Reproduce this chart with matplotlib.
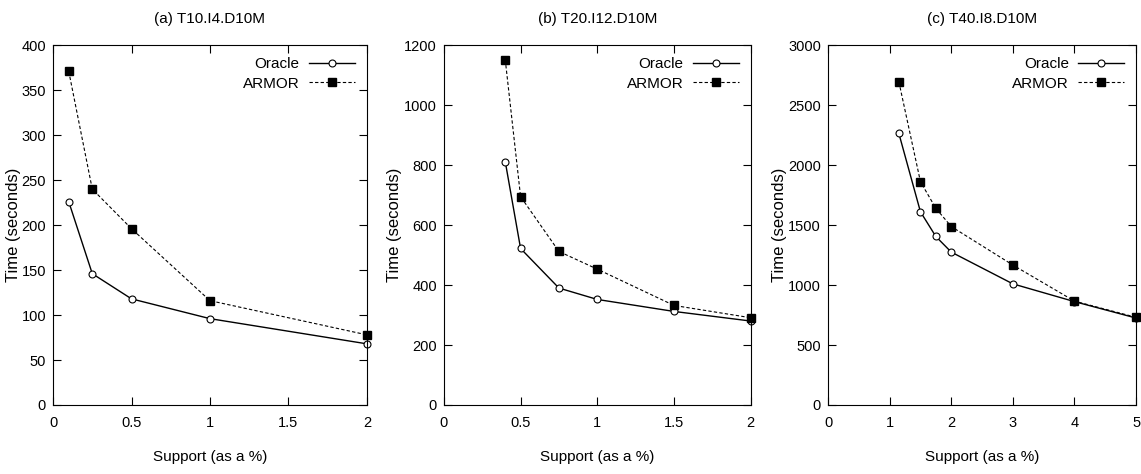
import matplotlib
matplotlib.use("Agg")
import matplotlib.pyplot as plt

# gnuplot-like narrow font if one is around, else plain sans
narrow = ['Liberation Sans Narrow', 'Liberation Sans', 'DejaVu Sans']
plt.rcParams['font.family'] = narrow

# panel (a) T10.I4.D10M
sup_a = [0.1, 0.25, 0.5, 1, 2]
oracle_a = [226, 146, 118, 96, 68]
armor_a = [371, 240, 196, 116, 78]

# panel (b) T20.I12.D10M
sup_b = [0.4, 0.5, 0.75, 1, 1.5, 2]
oracle_b = [812, 522, 390, 352, 312, 280]
armor_b = [1152, 695, 512, 453, 332, 291]

# panel (c) T40.I8.D10M
sup_c = [1.15, 1.5, 1.75, 2, 3, 4, 5]
oracle_c = [2264, 1611, 1405, 1275, 1010, 862, 725]
armor_c = [2695, 1862, 1640, 1488, 1167, 866, 731]

titles = ['(a) T10.I4.D10M', '(b) T20.I12.D10M', '(c) T40.I8.D10M']
xticks = [[0, 0.5, 1, 1.5, 2], [0, 0.5, 1, 1.5, 2], [0, 1, 2, 3, 4, 5]]
yticks = [range(0, 401, 50), range(0, 1201, 200), range(0, 3001, 500)]
xlims = [(0, 2), (0, 2), (0, 5)]
ylims = [(0, 400), (0, 1200), (0, 3000)]

fig = plt.figure(figsize=(11.41, 4.74), dpi=100)
rects = [[0.0465, 0.1456, 0.275, 0.759],
         [0.389, 0.1456, 0.269, 0.759],
         [0.7257, 0.1456, 0.270, 0.759]]
ylab_x = [-0.126, -0.160, -0.159]

data = [(sup_a, oracle_a, armor_a), (sup_b, oracle_b, armor_b), (sup_c, oracle_c, armor_c)]

for i in range(3):
    ax = fig.add_axes(rects[i])
    x, o, a = data[i]
    ax.plot(x, o, '-', color='black', lw=1.0, marker='o', ms=5,
            mfc='white', mec='black', mew=0.8, label='Oracle', clip_on=False)
    ax.plot(x, a, '--', color='black', lw=0.8, dashes=(3, 2), marker='s', ms=6,
            mfc='black', mec='black', label='ARMOR', clip_on=False)
    ax.set_xlim(xlims[i])
    ax.set_ylim(ylims[i])
    ax.set_xticks(xticks[i])
    ax.set_xticklabels([('%g' % v) for v in xticks[i]])
    ax.set_yticks(list(yticks[i]))
    ax.tick_params(direction='in', top=True, right=True, length=6, width=0.8,
                   labelsize=10.5, pad=5)
    ax.tick_params(axis='x', pad=8)
    for s in ax.spines.values():
        s.set_linewidth(0.8)
    ax.set_title(titles[i], fontsize=11, pad=16)
    ax.set_xlabel('Support (as a %)', fontsize=11)
    ax.xaxis.set_label_coords(0.5, -0.125)
    ax.set_ylabel('Time (seconds)', fontsize=12, family=['Liberation Sans', 'DejaVu Sans'])
    ax.yaxis.set_label_coords(ylab_x[i], 0.5)
    ax.yaxis.label.set_va('center')
    leg = ax.legend(loc='upper right', frameon=False, markerfirst=False,
                    fontsize=11, handlelength=3, borderaxespad=0.4,
                    handletextpad=0.6, labelspacing=0.35)

fig.savefig('out.png', dpi=100)
